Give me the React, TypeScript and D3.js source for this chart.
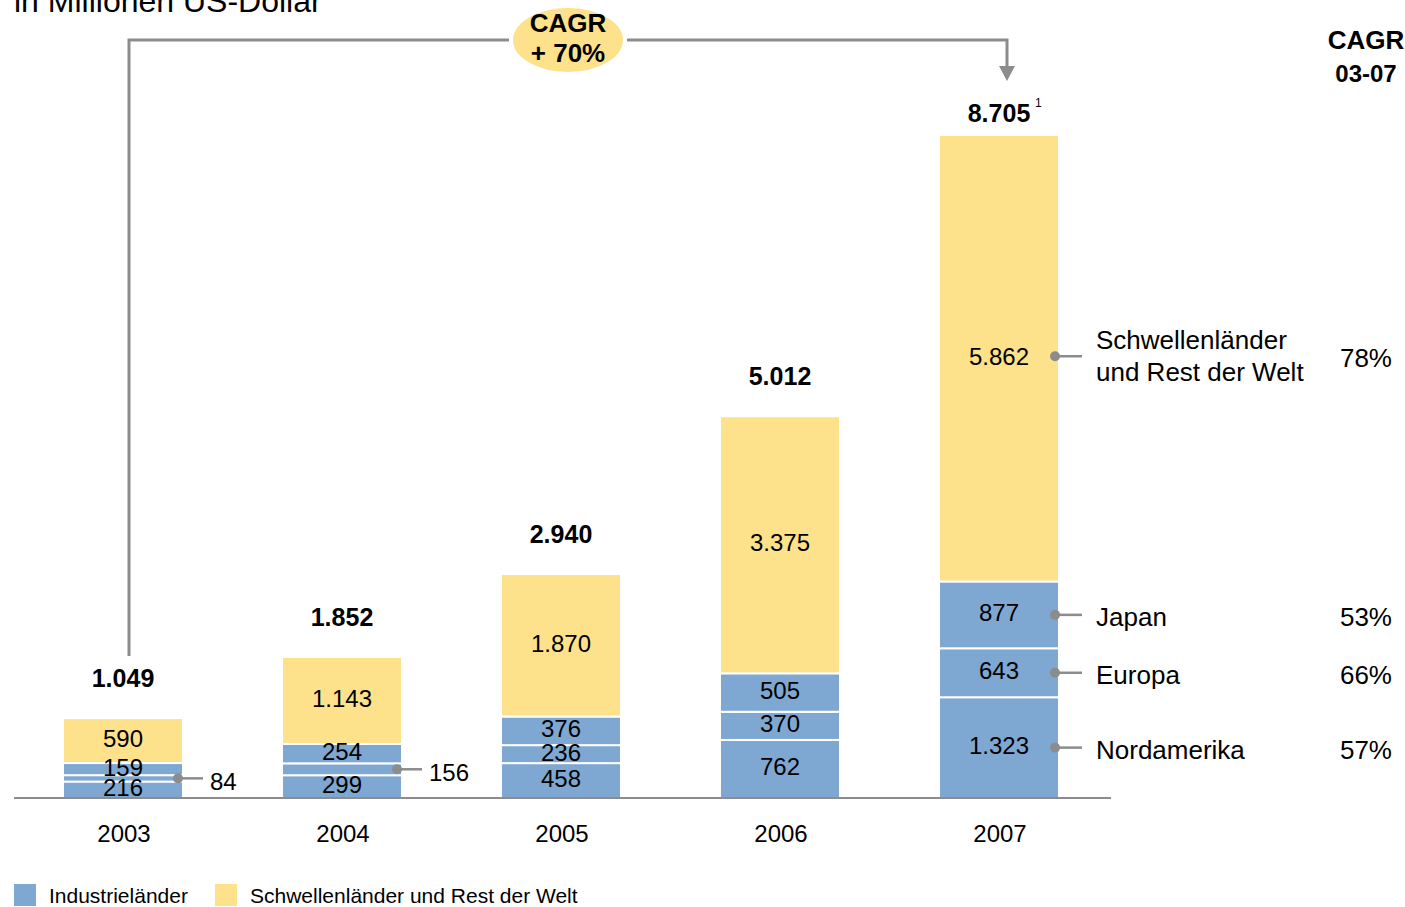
import { useEffect, useRef } from "react";
import * as d3 from "d3";

const years = ["2003", "2004", "2005", "2006", "2007"];
const nordamerika = [216, 299, 458, 762, 1323];
const europa = [84, 156, 236, 370, 643];
const japan = [159, 254, 376, 505, 877];
const schwellen = [590, 1143, 1870, 3375, 5862];
const totals = [1049, 1852, 2940, 5012, 8705];

const regionNames = ["Nordamerika", "Europa", "Japan", "Schwellenländer und Rest der Welt"];
const regionCagr = ["57%", "66%", "53%", "78%"];
const legendItems = ["Industrieländer", "Schwellenländer und Rest der Welt"];

const BLUE = "#7ea8d2";
const YELLOW = "#fde28b";
const GREY = "#8c8c8c";
const FONT = "'Liberation Sans', Arial, sans-serif";

const fmt = (v: number) => d3.format(",")(v).replace(/,/g, ".");

const App = () => {
  const svgRef = useRef<SVGSVGElement>(null);

  useEffect(() => {
    document.body.style.margin = "0";
    if (!svgRef.current) return;
    const svg = d3.select(svgRef.current);
    svg.selectAll("*").remove();
    svg.style("font-family", FONT);

    const x = d3.scalePoint<string>().domain(years).range([123, 999]);
    const y = d3.scaleLinear().domain([0, 8705]).range([798, 135]);
    const barW = 120;

    // stacked series, bottom to top
    const series = [nordamerika, europa, japan, schwellen];
    const rows = years.map((yr, i) => {
      const row: any = { year: yr };
      series.forEach((s, k) => (row["s" + k] = s[i]));
      return row;
    });
    const stacked = d3.stack<any>().keys(["s0", "s1", "s2", "s3"])(rows);

    // title (cut off at top, as in the original)
    svg.append("text").attr("x", 14).attr("y", 12).attr("font-size", 32).attr("fill", "#000")
      .text("in Millionen US-Dollar");

    // bars
    stacked.forEach((layer, k) => {
      layer.forEach((d, i) => {
        const yTop = y(d[1]);
        const yBot = y(d[0]);
        svg.append("rect")
          .attr("x", x(years[i])! - barW / 2)
          .attr("y", yTop)
          .attr("width", barW)
          .attr("height", Math.max(0, yBot - yTop))
          .attr("fill", k === 3 ? YELLOW : BLUE)
          .attr("stroke", "#fff")
          .attr("stroke-width", 2);
      });
    });

    // segment labels
    stacked.forEach((layer, k) => {
      layer.forEach((d, i) => {
        const mid = (y(d[0]) + y(d[1])) / 2;
        const cx = x(years[i])!;
        const small = k === 1 && y(d[0]) - y(d[1]) < 13;
        if (small) {
          // leader to the right
          const dx = cx + barW / 2 - 5;
          svg.append("line").attr("x1", dx).attr("x2", dx + 25).attr("y1", mid).attr("y2", mid)
            .attr("stroke", GREY).attr("stroke-width", 2.5);
          svg.append("circle").attr("cx", dx).attr("cy", mid).attr("r", 5).attr("fill", GREY);
          svg.append("text").attr("x", dx + 32).attr("y", mid + 3).attr("dominant-baseline", "central")
            .attr("font-size", 24).text(fmt(d[1] - d[0]));
        } else {
          svg.append("text").attr("x", cx).attr("y", mid - 2).attr("text-anchor", "middle")
            .attr("dominant-baseline", "central").attr("font-size", 24).text(fmt(d[1] - d[0]));
        }
      });
    });

    // totals
    totals.forEach((t, i) => {
      const last = i === totals.length - 1;
      const ty = y(t) - (last ? 22 : 40);
      svg.append("text").attr("x", x(years[i])!).attr("y", ty).attr("text-anchor", "middle")
        .attr("dominant-baseline", "central").attr("font-size", 25).attr("font-weight", "bold")
        .text(fmt(t));
      if (last) {
        svg.append("text").attr("x", x(years[i])! + 36).attr("y", ty - 6).attr("font-size", 12).text("1");
      }
    });

    // axis line
    svg.append("line").attr("x1", 14).attr("x2", 1111).attr("y1", 798).attr("y2", 798)
      .attr("stroke", GREY).attr("stroke-width", 2);

    // year labels
    years.forEach((yr) => {
      svg.append("text").attr("x", x(yr)! + 1).attr("y", 842).attr("text-anchor", "middle")
        .attr("font-size", 24).text(yr);
    });

    // CAGR bracket
    const lx = x(years[0])! + 6;
    const rx = x(years[4])! + 8;
    svg.append("path")
      .attr("d", `M${lx},${y(totals[0]) - 62} V40 H${rx} V68`)
      .attr("fill", "none").attr("stroke", GREY).attr("stroke-width", 3);
    svg.append("path").attr("d", `M${rx - 8},66 L${rx + 8},66 L${rx},81 Z`).attr("fill", GREY);
    svg.append("ellipse").attr("cx", 568).attr("cy", 40).attr("rx", 57).attr("ry", 34)
      .attr("fill", YELLOW).attr("stroke", "#fff").attr("stroke-width", 4);
    svg.append("text").attr("x", 568).attr("y", 32).attr("text-anchor", "middle")
      .attr("font-size", 26).attr("font-weight", "bold").text("CAGR");
    svg.append("text").attr("x", 568).attr("y", 62).attr("text-anchor", "middle")
      .attr("font-size", 26).attr("font-weight", "bold").text("+ 70%");

    // right side labels for last bar
    const li = years.length - 1;
    svg.append("text").attr("x", 1366).attr("y", 49).attr("text-anchor", "middle")
      .attr("font-size", 26).attr("font-weight", "bold").text("CAGR");
    svg.append("text").attr("x", 1366).attr("y", 82).attr("text-anchor", "middle")
      .attr("font-size", 24).attr("font-weight", "bold").text("03-07");

    stacked.forEach((layer, k) => {
      const d = layer[li];
      const mid = (y(d[0]) + y(d[1])) / 2 + (k === 3 ? -2 : 0);
      const dx = x(years[li])! + barW / 2 - 4;
      svg.append("line").attr("x1", dx).attr("x2", dx + 27).attr("y1", mid).attr("y2", mid)
        .attr("stroke", GREY).attr("stroke-width", 2.5);
      svg.append("circle").attr("cx", dx).attr("cy", mid).attr("r", 5).attr("fill", GREY);
      if (k === 3) {
        svg.append("text").attr("x", 1096).attr("y", mid - 16).attr("dominant-baseline", "central")
          .attr("font-size", 26).text("Schwellenländer");
        svg.append("text").attr("x", 1096).attr("y", mid + 16).attr("dominant-baseline", "central")
          .attr("font-size", 26).text("und Rest der Welt");
      } else {
        svg.append("text").attr("x", 1096).attr("y", mid + 2).attr("dominant-baseline", "central")
          .attr("font-size", 26).text(regionNames[k]);
      }
      svg.append("text").attr("x", 1392).attr("y", mid + 2).attr("text-anchor", "end")
        .attr("dominant-baseline", "central").attr("font-size", 26).text(regionCagr[k]);
    });

    // legend
    const legX = [14, 215];
    legendItems.forEach((name, i) => {
      svg.append("rect").attr("x", legX[i]).attr("y", 884).attr("width", 22).attr("height", 22)
        .attr("fill", i === 0 ? BLUE : YELLOW);
      svg.append("text").attr("x", legX[i] + 35).attr("y", 895).attr("dominant-baseline", "central")
        .attr("font-size", 21).text(name);
    });
  }, []);

  return <svg ref={svgRef} width={1405} height={907} style={{ display: "block", background: "#fff" }} />;
};

export default App;
